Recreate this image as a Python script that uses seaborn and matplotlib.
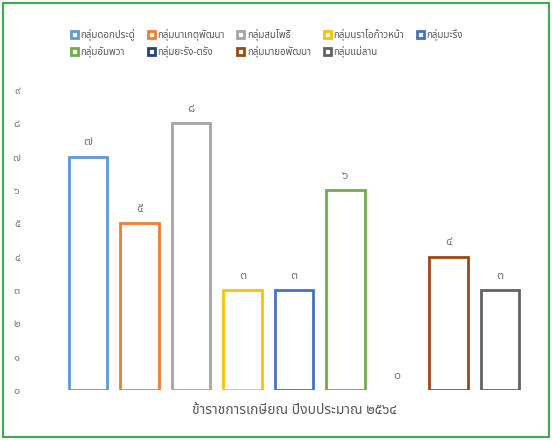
import pandas as pd
import seaborn as sns
import matplotlib.pyplot as plt
from matplotlib.patches import Rectangle

# ข้อมูล
category = 'ข้าราชการเกษียณ ปีงบประมาณ ๒๕๖๔'
groups = ['กลุ่มดอกประดู่', 'กลุ่มนาเกตุพัฒนา', 'กลุ่มสมโพธิ์', 'กลุ่มนราโอก้าวหน้า', 'กลุ่มมะริ่ง',
          'กลุ่มอัมพวา', 'กลุ่มยะรัง-ตรัง', 'กลุ่มมายอพัฒนา', 'กลุ่มแม่ลาน']
values = [7, 5, 8, 3, 3, 6, 0, 4, 3]
colors = ['#5B9BD5', '#ED7D31', '#A5A5A5', '#FFC000', '#4472C4',
          '#70AD47', '#264478', '#9E480E', '#636363']
yticks = list(range(10))

thai_digits = '๐๑๒๓๔๕๖๗๘๙'
def to_thai(n):
    return ''.join(thai_digits[int(c)] for c in str(n))

df = pd.DataFrame({'cat': [category] * len(groups), 'group': groups, 'value': values})

sns.set_style('white')
plt.rcParams['font.family'] = ['Noto Sans Thai', 'Bai Jamjuree', 'DejaVu Sans']

fig = plt.figure(figsize=(5.52, 4.4), dpi=100)
ax = fig.add_axes([45 / 552, 50 / 440, 498 / 552, 300 / 440])

sns.barplot(data=df, x='cat', y='value', hue='group', hue_order=groups,
            palette=colors, fill=False, linewidth=2, width=0.93, gap=0.25,
            legend=False, ax=ax)

for cont in ax.containers:
    for bar in cont:
        if bar.get_height() == 0:
            bar.set_linewidth(0)  # excel ไม่วาดแท่งที่เป็นศูนย์
    ax.bar_label(cont, labels=[to_thai(int(v)) for v in cont.datavalues],
                 padding=6, fontsize=9, color='#7f7f7f')

ax.set_ylim(0, 9)
ax.set_yticks(yticks)
ax.set_yticklabels([to_thai(t) for t in yticks], color='#7f7f7f', fontsize=8)
ax.tick_params(axis='y', length=0, pad=18)
ax.tick_params(axis='x', length=0, pad=9, labelsize=10, labelcolor='#595959')
ax.set_xlabel('')
ax.set_ylabel('')
sns.despine(ax=ax, left=True, bottom=True)

handles = [Rectangle((0, 0), 1, 1, facecolor='white', edgecolor=c, linewidth=2) for c in colors]
order = [0, 5, 1, 6, 2, 7, 3, 8, 4]
fig.legend([handles[i] for i in order], [groups[i] for i in order],
           loc='upper left', bbox_to_anchor=(62 / 552, 1 - 20 / 440), ncol=5,
           frameon=False, fontsize=7, labelcolor='#595959',
           handlelength=0.7, handleheight=0.7, handletextpad=0.3,
           columnspacing=1.3, labelspacing=0.5)

fig.patches.append(Rectangle((3 / 552, 3 / 440), 546 / 552, 434 / 440, transform=fig.transFigure,
                             fill=False, edgecolor='#33b34a', linewidth=1.5))

plt.savefig('out.png')
